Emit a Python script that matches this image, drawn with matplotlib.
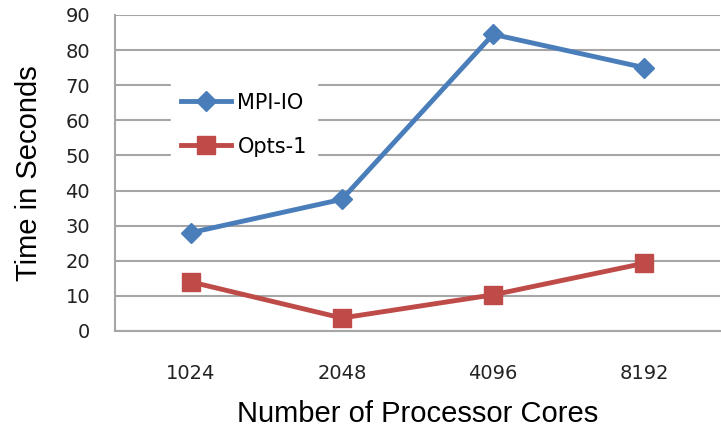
import numpy as np
import matplotlib.pyplot as plt

cores = ["1024", "2048", "4096", "8192"]
mpi_io = [28, 37.5, 84.5, 75]
opts_1 = [14, 3.7, 10.3, 19.3]
yticks = [0, 10, 20, 30, 40, 50, 60, 70, 80, 90]

fig = plt.figure(figsize=(7.21, 4.30), dpi=100)
ax = fig.add_axes([115 / 721, 1 - 331 / 430, 605 / 721, 316 / 430])

x = np.arange(len(cores))
ax.plot(x, mpi_io, color="#4a7ebb", lw=3.5, marker="D", ms=10,
        label="MPI-IO", zorder=3)
ax.plot(x, opts_1, color="#be4b48", lw=3.5, marker="s", ms=13,
        label="Opts-1", zorder=3)

ax.set_xlim(-0.5, len(cores) - 0.5)
ax.set_ylim(0, 90)
ax.set_yticks(yticks)
ax.set_xticks(x)
ax.set_xticklabels(cores)
ax.yaxis.grid(True, color="#a6a6a6", lw=1.5)
ax.set_axisbelow(True)
for s in ["top", "right"]:
    ax.spines[s].set_visible(False)
for s in ["left", "bottom"]:
    ax.spines[s].set_color("#a6a6a6")
    ax.spines[s].set_linewidth(1.5)
ax.tick_params(axis="both", length=0, labelsize=14, colors="#222222")
ax.tick_params(axis="y", pad=18)
ax.tick_params(axis="x", pad=24)

ax.set_xlabel("Number of Processor Cores", fontsize=21,
              fontfamily="Liberation Sans", labelpad=12)
ax.set_ylabel("Time in Seconds", fontsize=21,
              fontfamily="Liberation Sans", labelpad=16)

leg = ax.legend(loc="upper left", bbox_to_anchor=(0.075, 0.82), frameon=True,
                fontsize=15, handlelength=2.4, labelspacing=1.15,
                borderpad=0.5, handletextpad=0.3)
leg.get_frame().set_edgecolor("white")
leg.get_frame().set_facecolor("white")
leg.get_frame().set_alpha(1)
leg.get_frame().set_boxstyle("square", pad=0)

fig.savefig("out.png", dpi=100)
